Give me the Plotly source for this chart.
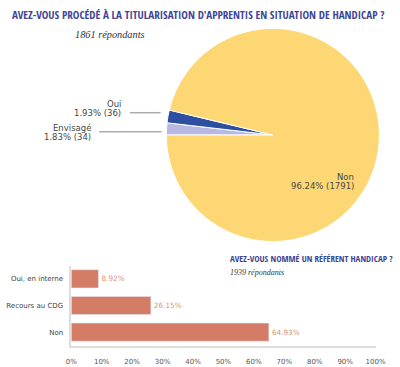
import plotly.graph_objects as go

# Pie data
pie_labels = ["Envisagé", "Oui", "Non"]
pie_values = [34, 36, 1791]
pie_pcts = ["1.83%", "1.93%", "96.24%"]
pie_colors = ["#B8B9E2", "#2D4FA1", "#FED775"]

# Bar data
bar_cats = ["Oui, en interne", "Recours au CDG", "Non"]
bar_vals = [8.92, 26.15, 64.93]
x_ticks = list(range(0, 101, 10))

title1 = "AVEZ-VOUS PROCÉDÉ À LA TITULARISATION D'APPRENTIS EN SITUATION DE HANDICAP ?"
sub1 = "1861 répondants"
title2 = "AVEZ-VOUS NOMMÉ UN RÉFÉRENT HANDICAP ?"
sub2 = "1939 répondants"

W, H = 400, 367
def px(x):
    return x / W
def py(y):
    return 1 - y / H

fig = go.Figure()

fig.add_trace(go.Pie(
    labels=pie_labels, values=pie_values, sort=False, direction="clockwise",
    rotation=270, textinfo="none", hoverinfo="label+value+percent",
    marker=dict(colors=pie_colors, line=dict(color="white", width=1)),
    domain=dict(x=[px(167), px(389)], y=[py(246), py(24)]),
    showlegend=False,
))

fig.add_trace(go.Bar(
    y=bar_cats, x=bar_vals, orientation="h",
    marker=dict(color="#D47C66"),
    text=[f"{v:.2f}%" for v in bar_vals], textposition="outside",
    textfont=dict(family="DejaVu Sans", size=7.3, color="#E0917D"),
    cliponaxis=False, width=0.68, showlegend=False,
))

fig.update_layout(
    width=W, height=H, margin=dict(l=0, r=0, t=0, b=0),
    paper_bgcolor="white", plot_bgcolor="white",
    xaxis=dict(domain=[px(68), px(385)], range=[0, 100], tickvals=x_ticks,
               ticktext=[f"{t}%" for t in x_ticks], showgrid=False, zeroline=False,
               showline=True, linecolor="#DDDDDD", linewidth=1.5,
               ticks="outside", ticklen=8, tickcolor="rgba(0,0,0,0)",
               tickfont=dict(family="DejaVu Sans", size=7, color="#555555")),
    yaxis=dict(domain=[py(345.5), py(265.5)], autorange="reversed",
               showline=True, linecolor="#DDDDDD", linewidth=1.5, showgrid=False,
               ticks="outside", ticklen=5, tickcolor="rgba(0,0,0,0)",
               tickfont=dict(family="DejaVu Sans", size=7, color="#444444")),
)

ann = []
def add(text, x, y, size, color, family, xanchor="right", style="normal", weight="normal"):
    ann.append(dict(text=text, x=px(x), y=py(y), xref="paper", yref="paper",
                    xanchor=xanchor, yanchor="middle", showarrow=False,
                    font=dict(size=size, color=color, family=family, style=style, weight=weight)))

tfont = "Open Sans Condensed, Roboto Condensed, DejaVu Sans Condensed"
add(title1, 200, 14, 11.1, "#3D4497", tfont, xanchor="center")
add(sub1, 70, 34, 10.3, "#333333", "Liberation Serif", xanchor="left", style="italic")
add(title2, 231, 258, 9, "#3D4497", tfont, xanchor="left")
add(sub2, 231, 272, 8, "#333333", "Liberation Serif", xanchor="left", style="italic")

lf = "DejaVu Sans"
lc = "#474747"
add(pie_labels[1], 122, 104, 8.5, lc, lf)
add(f"{pie_pcts[1]} ({pie_values[1]})", 122, 113, 8.5, lc, lf)
add(pie_labels[0], 91, 128, 8.5, lc, lf)
add(f"{pie_pcts[0]} ({pie_values[0]})", 91, 137, 8.5, lc, lf)
add(pie_labels[2], 365, 177, 8.5, lc, lf)
add(f"{pie_pcts[2]} ({pie_values[2]})", 365, 186, 8.5, lc, lf)
fig.update_layout(annotations=ann)

shapes = [
    dict(type="line", xref="paper", yref="paper", x0=px(129), x1=px(161), y0=py(112.7), y1=py(112.7),
         line=dict(color="#AAAAAA", width=1.5)),
    dict(type="line", xref="paper", yref="paper", x0=px(97), x1=px(162), y0=py(131.7), y1=py(131.7),
         line=dict(color="#AAAAAA", width=1.5)),
]
fig.update_layout(shapes=shapes)

fig.write_html("out.html", config={"displayModeBar": False},
               post_script="document.body.style.margin='0';")
